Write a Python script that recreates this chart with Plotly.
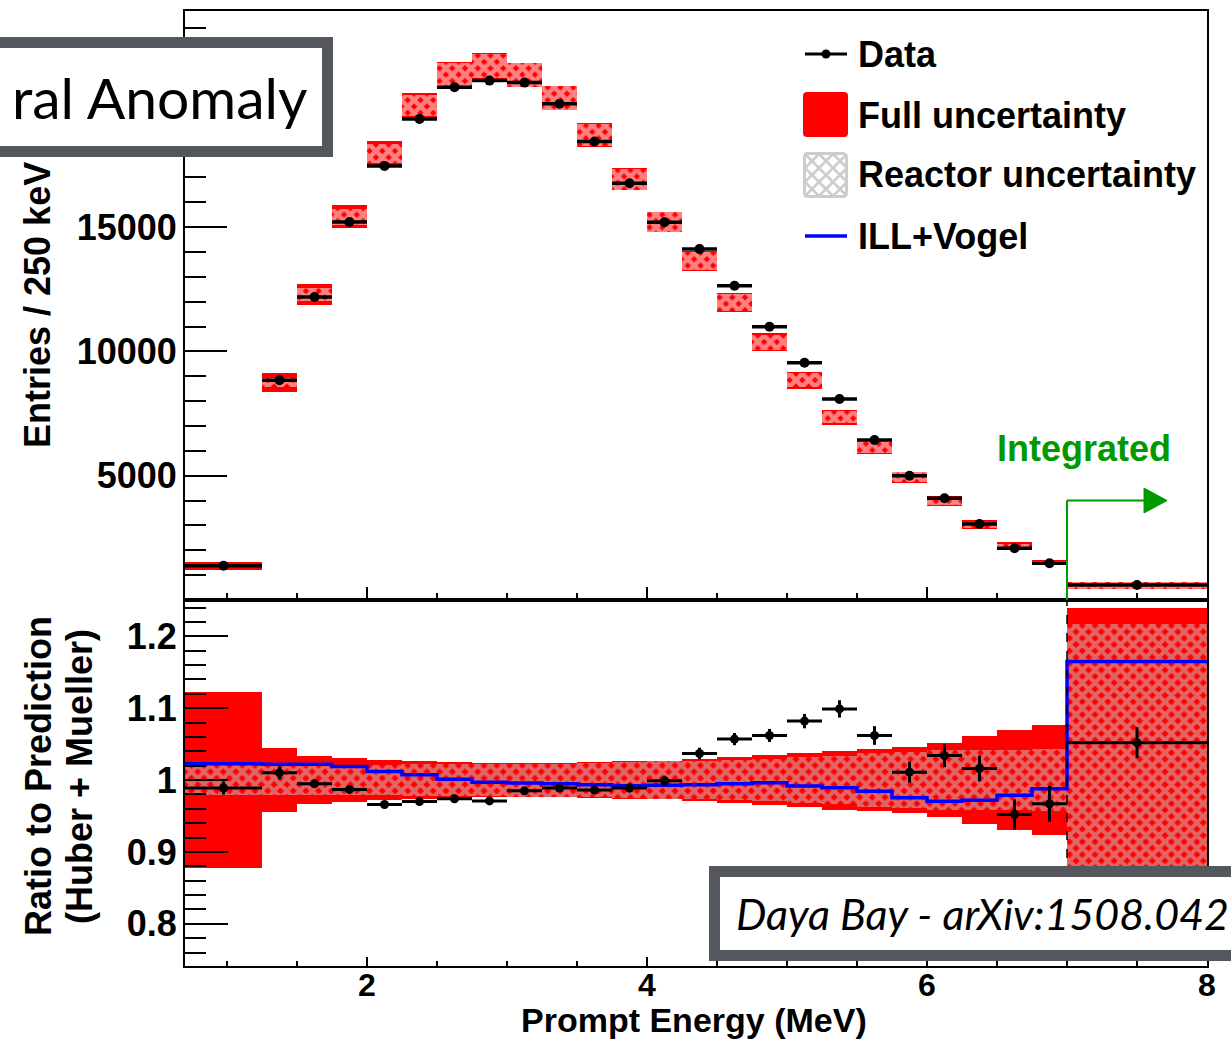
import plotly.graph_objects as go

W, H = 1231, 1039
FIG_W = 1240  # page width used by the browser capture

# ---------------- data ----------------
bin_edges = [0.7, 1.25, 1.5, 1.75, 2.0, 2.25, 2.5, 2.75, 3.0, 3.25, 3.5, 3.75, 4.0,
             4.25, 4.5, 4.75, 5.0, 5.25, 5.5, 5.75, 6.0, 6.25, 6.5, 6.75, 7.0, 8.0]

data_counts = [1375, 8840, 12190, 15205, 17460, 19350, 20620, 20890, 20810, 19960,
               18440, 16760, 15190, 14120, 12640, 10990, 9545, 8085, 6436, 5000,
               4090, 3057, 2080, 1476, 603]

pred_counts = [1364, 8750, 12280, 15410, 17960, 19890, 21120, 21470, 21120, 20190,
               18700, 16930, 15200, 13640, 11960, 10360, 8830, 7355, 6150, 4940,
               3970, 3020, 2165, 1505, 583]

ratio = [0.989, 1.010, 0.995, 0.987, 0.966, 0.970, 0.974, 0.971, 0.985, 0.989,
         0.986, 0.989, 0.999, 1.037, 1.057, 1.062, 1.082, 1.099, 1.062, 1.011,
         1.034, 1.016, 0.952, 0.967, 1.052]

ratio_err = [0.009, 0.009, 0.006, 0.005, 0.005, 0.005, 0.005, 0.005, 0.005, 0.005,
             0.006, 0.006, 0.007, 0.008, 0.0085, 0.009, 0.010, 0.012, 0.013, 0.0145,
             0.016, 0.018, 0.021, 0.025, 0.0215]

full_rel_err = [0.123, 0.045, 0.034, 0.030, 0.028, 0.026, 0.025, 0.024, 0.0236, 0.024,
                0.025, 0.026, 0.027, 0.029, 0.032, 0.035, 0.0375, 0.041, 0.043, 0.046,
                0.051, 0.061, 0.069, 0.077, 0.240]

reactor_rel_err = [0.021, 0.021, 0.021, 0.021, 0.021, 0.022, 0.022, 0.022, 0.023, 0.023,
                   0.024, 0.025, 0.026, 0.027, 0.028, 0.029, 0.032, 0.033, 0.038, 0.039,
                   0.042, 0.042, 0.042, 0.043, 0.217]

ill_vogel = [1.0228, 1.0219, 1.0219, 1.019, 1.012, 1.0075, 1.001, 0.997, 0.9958, 0.995,
             0.9936, 0.992, 0.9926, 0.9936, 0.995, 0.9964, 0.9917, 0.9894, 0.9843, 0.9755,
             0.9704, 0.9718, 0.979, 0.988, 1.1649]

legend_labels = ["Data", "Full uncertainty", "Reactor uncertainty", "ILL+Vogel"]
top_ytick_vals = [5000, 10000, 15000]
bot_ytick_vals = [0.8, 0.9, 1.0, 1.1, 1.2]
bot_ytick_text = ["0.8", "0.9", "1", "1.1", "1.2"]
xtick_vals = [2, 4, 6, 8]

# ---------------- style ----------------
RED = "#ff0000"
HATCH = "#c8c8c8"
BOXGRAY = "#54585d"
GREEN = "#009a00"
BLUE = "#0000ff"
FONT = "Liberation Sans, Arial, sans-serif"
GILL = "Lato, Open Sans, sans-serif"
FS = 36

centers = [(a + b) / 2 for a, b in zip(bin_edges[:-1], bin_edges[1:])]
widths = [b - a for a, b in zip(bin_edges[:-1], bin_edges[1:])]
halfw = [w / 2 for w in widths]


def px_x(x):
    return x / W


def px_y(y):
    return 1 - y / H


fig = go.Figure()

# ---- top panel: prediction boxes ----
fig.add_trace(go.Bar(
    x=centers, width=widths,
    base=[p * (1 - f) for p, f in zip(pred_counts, full_rel_err)],
    y=[2 * p * f for p, f in zip(pred_counts, full_rel_err)],
    marker=dict(color=RED, line=dict(width=0)),
    xaxis="x", yaxis="y", name="Full uncertainty", hoverinfo="skip"))
fig.add_trace(go.Bar(
    x=centers, width=widths,
    base=[p * (1 - r) for p, r in zip(pred_counts, reactor_rel_err)],
    y=[2 * p * r for p, r in zip(pred_counts, reactor_rel_err)],
    marker=dict(color="rgba(0,0,0,0)", line=dict(width=0),
                pattern=dict(shape="x", fgcolor="white", bgcolor="rgba(0,0,0,0)",
                             size=9, solidity=0.75)),
    xaxis="x", yaxis="y", name="Reactor uncertainty", hoverinfo="skip"))
fig.add_trace(go.Scatter(
    x=centers, y=data_counts, mode="markers",
    marker=dict(color="black", size=10),
    error_x=dict(type="data", array=halfw, width=0, thickness=3.5, color="black"),
    xaxis="x", yaxis="y", name="Data"))

# ---- bottom panel: ratio ----
fig.add_trace(go.Bar(
    x=centers, width=widths,
    base=[1 - f for f in full_rel_err], y=[2 * f for f in full_rel_err],
    marker=dict(color=RED, line=dict(width=0)),
    xaxis="x2", yaxis="y2", name="Full uncertainty", hoverinfo="skip"))
fig.add_trace(go.Bar(
    x=centers, width=widths,
    base=[1 - r for r in reactor_rel_err], y=[2 * r for r in reactor_rel_err],
    marker=dict(color="rgba(0,0,0,0)", line=dict(width=0),
                pattern=dict(shape="x", fgcolor=HATCH, bgcolor="rgba(0,0,0,0)",
                             size=9, solidity=0.7)),
    xaxis="x2", yaxis="y2", name="Reactor uncertainty", hoverinfo="skip"))
fig.add_trace(go.Scatter(
    x=bin_edges, y=ill_vogel + [ill_vogel[-1]], mode="lines",
    line=dict(color=BLUE, width=3.5, shape="hv"),
    xaxis="x2", yaxis="y2", name="ILL+Vogel"))
fig.add_trace(go.Scatter(
    x=centers, y=ratio, mode="markers",
    marker=dict(color="black", size=9),
    error_x=dict(type="data", array=halfw, width=0, thickness=3, color="black"),
    error_y=dict(type="data", array=ratio_err, width=0, thickness=3, color="black"),
    xaxis="x2", yaxis="y2", name="Data"))

# ---- axes ----
XDOM = [px_x(185), px_x(1207)]
TOPDOM = [px_y(600), px_y(11)]
BOTDOM = [px_y(966), px_y(600)]
XR = [bin_edges[0], bin_edges[-1]]

axis_common = dict(showline=True, linecolor="black", linewidth=2, mirror=True,
                   showgrid=False, zeroline=False, ticks="inside", tickcolor="black",
                   tickwidth=2)
tickfont = dict(family=FONT, size=FS, color="black", weight="bold")
xtickfont = dict(family=FONT, size=32, color="black", weight="bold")

fig.update_layout(
    width=FIG_W, height=H, autosize=False, margin=dict(l=0, r=0, t=0, b=0),
    paper_bgcolor="white", plot_bgcolor="white",
    showlegend=False, barmode="overlay", bargap=0,
    xaxis=dict(domain=XDOM, range=XR, anchor="y", tickmode="array", tickvals=xtick_vals,
               ticklen=13, showticklabels=False,
               minor=dict(tickmode="array", tickvals=[0.5 * k for k in range(2, 17)],
                          ticklen=7, tickwidth=2, ticks="inside", tickcolor="black"),
               **axis_common),
    yaxis=dict(domain=TOPDOM, range=[0, 23690], anchor="x", tickmode="array",
               tickvals=top_ytick_vals, ticktext=[str(v) for v in top_ytick_vals],
               ticklen=42, tickfont=tickfont, ticklabelstandoff=-1,
               minor=dict(tickmode="array", tickvals=[1000 * k for k in range(1, 24)],
                          ticklen=21, tickwidth=2, ticks="inside", tickcolor="black"),
               **axis_common),
    xaxis2=dict(domain=XDOM, range=XR, anchor="y2", matches="x", tickmode="array",
                tickvals=xtick_vals, ticktext=[str(v) for v in xtick_vals],
                ticklen=9, tickfont=xtickfont, ticklabelstandoff=-10,
                minor=dict(tickmode="array", tickvals=[0.5 * k for k in range(2, 17)],
                           ticklen=5, tickwidth=2, ticks="inside", tickcolor="black"),
                **axis_common),
    yaxis2=dict(domain=BOTDOM, range=[0.7413, 1.2505], anchor="x2", tickmode="array",
                tickvals=bot_ytick_vals, ticktext=bot_ytick_text,
                ticklen=43, tickfont=tickfont, ticklabelstandoff=-1,
                minor=dict(tickmode="array", tickvals=[0.74 + 0.02 * k for k in range(1, 26)],
                           ticklen=21, tickwidth=2, ticks="inside", tickcolor="black"),
                **axis_common),
)

bold = dict(family=FONT, size=FS, color="black", weight="bold")
ann = []
# axis titles
ann.append(dict(text="Entries / 250 keV", x=px_x(38), y=px_y(305), xref="paper", yref="paper",
                textangle=-90, showarrow=False, font=bold, xanchor="center", yanchor="middle"))
ann.append(dict(text="Ratio to Prediction", x=px_x(38), y=px_y(776), xref="paper", yref="paper",
                textangle=-90, showarrow=False, font=bold, xanchor="center", yanchor="middle"))
ann.append(dict(text="(Huber + Mueller)", x=px_x(79), y=px_y(777), xref="paper", yref="paper",
                textangle=-90, showarrow=False, font=bold, xanchor="center", yanchor="middle"))
ann.append(dict(text="Prompt Energy (MeV)", x=px_x(694), y=px_y(1020), xref="paper", yref="paper",
                showarrow=False, font=dict(family=FONT, size=34, color="black", weight="bold"),
                xanchor="center", yanchor="middle"))
# Integrated
ann.append(dict(text="Integrated", x=px_x(1084), y=px_y(448), xref="paper", yref="paper",
                showarrow=False, font=dict(family=FONT, size=FS, color=GREEN, weight="bold"),
                xanchor="center", yanchor="middle"))
# legend texts
for lab, yy in zip(legend_labels, [54, 115, 175, 237]):
    ann.append(dict(text=lab, x=px_x(856), y=px_y(yy), xref="paper", yref="paper",
                    showarrow=False, font=bold, xanchor="left", yanchor="middle"))
# box texts
ann.append(dict(text="ral Anomaly", x=px_x(309), y=px_y(97), xref="paper", yref="paper",
                xanchor="right", yanchor="middle", showarrow=False,
                font=dict(family=GILL, size=57, color="black")))
ann.append(dict(text="<i>Daya Bay - arXiv:1508.042</i>", x=px_x(734), y=px_y(913), xref="paper",
                yref="paper", xanchor="left", yanchor="middle", showarrow=False,
                font=dict(family=GILL, size=43, color="black")))
fig.update_layout(annotations=ann)

# ---------------- shapes ----------------
shapes = []
EDGE = bin_edges[-2]
ARROW_Y = 4000
HEAD_X0, HEAD_X1, HEAD_H = 7.55, 7.715, 500
shapes.append(dict(type="line", xref="x", yref="y", x0=EDGE, x1=EDGE, y0=0, y1=ARROW_Y,
                   line=dict(color=GREEN, width=2)))
shapes.append(dict(type="line", xref="x", yref="y", x0=EDGE, x1=HEAD_X0, y0=ARROW_Y, y1=ARROW_Y,
                   line=dict(color=GREEN, width=2)))
shapes.append(dict(type="path", xref="x", yref="y",
                   path=f"M {HEAD_X0},{ARROW_Y - HEAD_H} L {HEAD_X1},{ARROW_Y} L {HEAD_X0},{ARROW_Y + HEAD_H} Z",
                   fillcolor=GREEN, line=dict(color=GREEN, width=1)))
shapes.append(dict(type="line", xref="x2", yref="y2 domain", x0=EDGE, x1=EDGE, y0=0, y1=1,
                   line=dict(color="black", width=1.5, dash="dash")))

# framed boxes (white fill, thick gray border), drawn above the plot
BW = 11
shapes.append(dict(type="rect", xref="paper", yref="paper", layer="above",
                   x0=px_x(-40), x1=px_x(333 - BW / 2), y0=px_y(37 + BW / 2), y1=px_y(157 - BW / 2),
                   fillcolor="white", line=dict(color=BOXGRAY, width=BW)))
shapes.append(dict(type="path", xref="paper", yref="paper", layer="above",
                   path=(f"M 1.01,{px_y(866 + BW / 2)} L {px_x(709 + BW / 2)},{px_y(866 + BW / 2)} "
                         f"L {px_x(709 + BW / 2)},{px_y(961 - BW / 2)} L 1.01,{px_y(961 - BW / 2)}"),
                   fillcolor="white", line=dict(color=BOXGRAY, width=BW)))


def rrect(x0, y0, x1, y1, r):
    X = px_x
    Y = px_y
    return (f"M {X(x0 + r)},{Y(y0)} L {X(x1 - r)},{Y(y0)} Q {X(x1)},{Y(y0)} {X(x1)},{Y(y0 + r)} "
            f"L {X(x1)},{Y(y1 - r)} Q {X(x1)},{Y(y1)} {X(x1 - r)},{Y(y1)} "
            f"L {X(x0 + r)},{Y(y1)} Q {X(x0)},{Y(y1)} {X(x0)},{Y(y1 - r)} "
            f"L {X(x0)},{Y(y0 + r)} Q {X(x0)},{Y(y0)} {X(x0 + r)},{Y(y0)} Z")


# legend: Data
shapes.append(dict(type="line", xref="paper", yref="paper", x0=px_x(805), x1=px_x(847),
                   y0=px_y(54), y1=px_y(54), line=dict(color="black", width=3)))
shapes.append(dict(type="circle", xref="paper", yref="paper", x0=px_x(821.5), x1=px_x(830.5),
                   y0=px_y(49.5), y1=px_y(58.5), fillcolor="black", line=dict(width=0)))
# legend: Full
shapes.append(dict(type="path", xref="paper", yref="paper", path=rrect(803, 92, 848, 137, 4),
                   fillcolor=RED, line=dict(width=0)))
# legend: Reactor
lx0, ly0, lx1, ly1 = 804.5, 153.5, 846.5, 196.5
shapes.append(dict(type="path", xref="paper", yref="paper", path=rrect(lx0, ly0, lx1, ly1, 4),
                   fillcolor="white", line=dict(color="#cccccc", width=3)))
segs = []
step = 14
for k in range(-3, 4):
    d = k * step
    c = (lx0 - ly0) + d
    xa, xb = max(lx0, ly0 + c), min(lx1, ly1 + c)
    if xb > xa:
        segs.append(f"M {px_x(xa)},{px_y(xa - c)} L {px_x(xb)},{px_y(xb - c)}")
    c2 = (lx0 + ly1) + d
    xa, xb = max(lx0, c2 - ly1), min(lx1, c2 - ly0)
    if xb > xa:
        segs.append(f"M {px_x(xa)},{px_y(c2 - xa)} L {px_x(xb)},{px_y(c2 - xb)}")
shapes.append(dict(type="path", xref="paper", yref="paper", path=" ".join(segs),
                   line=dict(color="#cccccc", width=2.5)))
# legend: ILL+Vogel
shapes.append(dict(type="line", xref="paper", yref="paper", x0=px_x(805), x1=px_x(847),
                   y0=px_y(236), y1=px_y(236), line=dict(color=BLUE, width=3.5)))
fig.update_layout(shapes=shapes)

fig.write_html(
    "out.html", config={"responsive": False},
    post_script=("document.documentElement.style.margin='0px';"
                 "document.body.style.margin='0px';"))
